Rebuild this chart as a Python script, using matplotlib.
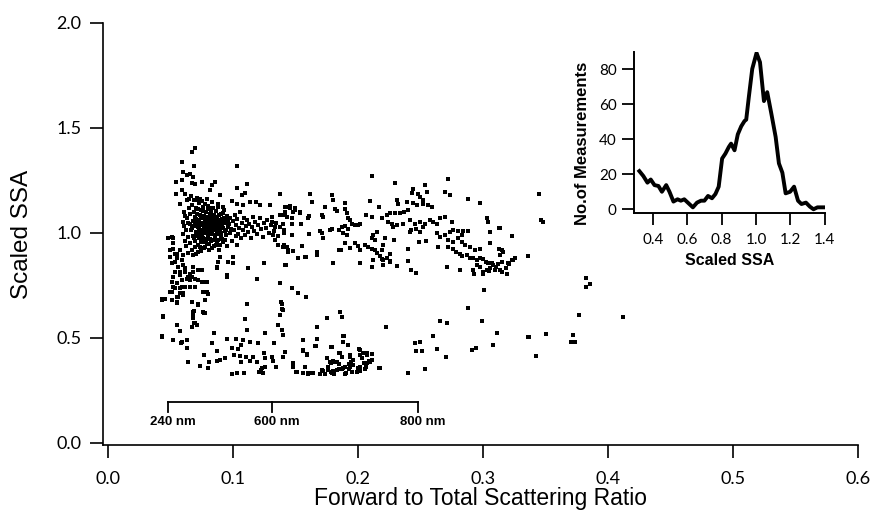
import matplotlib.pyplot as plt
import numpy as np

# scatter points (forward/total scattering ratio, scaled SSA)
cluster_pts = [
    (0.0612, 1.102), (0.0634, 1.071), (0.0648, 1.118), (0.0655, 1.043), (0.0661, 1.089), (0.0667, 1.012),
    (0.0673, 1.132), (0.0679, 1.058), (0.0684, 0.987), (0.0688, 1.101), (0.0693, 1.034), (0.0697, 1.076),
    (0.0701, 0.962), (0.0705, 1.119), (0.0709, 1.005), (0.0712, 1.048), (0.0716, 1.091), (0.0719, 0.941),
    (0.0722, 1.063), (0.0726, 1.021), (0.0729, 1.142), (0.0733, 0.978), (0.0736, 1.087), (0.0739, 1.039),
    (0.0742, 1.108), (0.0746, 0.955), (0.0749, 1.011), (0.0752, 1.069), (0.0756, 0.993), (0.0759, 1.125),
    (0.0763, 1.047), (0.0766, 0.928), (0.0769, 1.083), (0.0772, 1.018), (0.0776, 0.969), (0.0779, 1.061),
    (0.0782, 1.098), (0.0786, 1.002), (0.0789, 1.036), (0.0792, 0.947), (0.0796, 1.075), (0.0799, 1.114),
    (0.0803, 0.984), (0.0806, 1.029), (0.0809, 1.056), (0.0813, 0.917), (0.0816, 1.092), (0.0819, 1.007),
    (0.0823, 1.043), (0.0826, 0.962), (0.0829, 1.071), (0.0833, 1.121), (0.0836, 0.996), (0.0839, 1.034),
    (0.0843, 1.063), (0.0846, 0.939), (0.0849, 1.088), (0.0853, 1.014), (0.0857, 0.975), (0.0861, 1.052),
    (0.0865, 1.103), (0.0869, 1.026), (0.0873, 0.953), (0.0877, 1.067), (0.0881, 0.994), (0.0885, 1.041),
    (0.0889, 1.084), (0.0893, 0.921), (0.0898, 1.017), (0.0903, 1.058), (0.0908, 0.981), (0.0913, 1.036),
    (0.0918, 1.095), (0.0924, 0.958), (0.0930, 1.072), (0.0936, 1.009), (0.0942, 1.046), (0.0948, 0.992),
    (0.0955, 1.081), (0.0962, 1.027),
    (0.0598, 1.054), (0.0603, 0.997), (0.0607, 1.031), (0.0617, 0.963), (0.0621, 1.079), (0.0626, 0.938),
    (0.0629, 1.015), (0.0638, 0.981), (0.0642, 1.047), (0.0645, 0.906), (0.0651, 1.161), (0.0658, 0.952),
    (0.0664, 1.174), (0.0671, 0.918), (0.0676, 1.023), (0.0681, 0.894), (0.0686, 1.155), (0.0691, 0.975),
    (0.0695, 0.931), (0.0699, 1.047), (0.0703, 0.899), (0.0707, 1.066), (0.0711, 0.984), (0.0714, 1.168),
    (0.0718, 1.029), (0.0721, 0.908), (0.0724, 1.112), (0.0728, 0.997), (0.0731, 1.052), (0.0734, 0.934),
    (0.0738, 1.163), (0.0741, 1.004), (0.0744, 1.072), (0.0748, 0.912), (0.0751, 1.037), (0.0755, 1.151),
    (0.0758, 0.976), (0.0761, 1.016), (0.0765, 1.104), (0.0768, 0.958), (0.0771, 1.049), (0.0775, 1.137),
    (0.0778, 0.934), (0.0781, 1.024), (0.0785, 1.078), (0.0788, 0.968), (0.0791, 1.161), (0.0795, 1.009),
    (0.0798, 0.987), (0.0801, 1.045), (0.0805, 1.129), (0.0808, 0.949), (0.0812, 1.016), (0.0815, 1.064),
    (0.0818, 0.972), (0.0822, 1.106), (0.0825, 1.031), (0.0828, 0.995), (0.0832, 1.082), (0.0835, 0.928),
    (0.0838, 1.049), (0.0842, 1.013), (0.0845, 1.117), (0.0848, 0.968), (0.0852, 1.058), (0.0856, 1.034),
    (0.0860, 0.989), (0.0864, 1.076), (0.0868, 0.943), (0.0872, 1.041), (0.0876, 1.008), (0.0880, 1.123),
    (0.0884, 0.967), (0.0888, 1.061), (0.0892, 1.029), (0.0897, 0.944), (0.0902, 1.089), (0.0907, 1.002),
    (0.0912, 1.067), (0.0917, 0.973), (0.0923, 1.024), (0.0929, 1.108), (0.0935, 0.966), (0.0941, 1.057),
    (0.0947, 1.015), (0.0953, 0.938), (0.0959, 1.064),
]

cluster_top = [
    (0.0698, 1.407), (0.0676, 1.386), (0.0596, 1.338), (0.0692, 1.318), (0.1030, 1.319), (0.0604, 1.291),
    (0.0631, 1.275), (0.0658, 1.283), (0.0543, 1.243), (0.0591, 1.251), (0.0671, 1.239), (0.0698, 1.235),
    (0.0751, 1.243), (0.0684, 1.267), (0.0857, 1.243), (0.0831, 1.227), (0.0818, 1.207), (0.1116, 1.235),
    (0.0546, 1.188), (0.0618, 1.188), (0.0591, 1.207), (0.1030, 1.215), (0.0897, 1.183), (0.1070, 1.180),
    (0.1097, 1.191), (0.1377, 1.185), (0.0578, 1.140), (0.0631, 1.156), (0.0724, 1.159), (0.0791, 1.164),
    (0.0831, 1.148), (0.0884, 1.140), (0.0924, 1.124), (0.0991, 1.153), (0.1031, 1.140), (0.1084, 1.132),
    (0.1137, 1.148), (0.1185, 1.148), (0.1217, 1.132), (0.1297, 1.132), (0.1430, 1.124), (0.1417, 1.101),
    (0.1377, 1.085),
]

arm_pts = [
    (0.0968, 1.042), (0.0975, 0.998), (0.0981, 1.073), (0.0987, 1.021), (0.0994, 0.962), (0.1001, 1.055),
    (0.1008, 1.012), (0.1015, 1.086), (0.1022, 0.985), (0.1029, 1.038), (0.1036, 1.067), (0.1043, 0.997),
    (0.1051, 1.024), (0.1058, 1.098), (0.1066, 0.974), (0.1074, 1.046), (0.1082, 1.013), (0.1090, 1.071),
    (0.1098, 0.991), (0.1106, 1.035), (0.1115, 1.062), (0.1124, 1.003), (0.1133, 1.044), (0.1142, 0.978),
    (0.1151, 1.029), (0.1161, 1.077), (0.1171, 1.011), (0.1181, 1.052), (0.1192, 0.996), (0.1203, 1.038),
    (0.1214, 1.069), (0.1226, 1.017), (0.1238, 0.983), (0.1250, 1.046), (0.1263, 1.025), (0.1276, 1.061),
    (0.1289, 0.998), (0.1302, 1.037), (0.1316, 1.074), (0.1330, 1.008), (0.1345, 1.049), (0.1360, 0.987),
    (0.1375, 1.028),
]

tail_pts = [
    (0.0511, 0.982), (0.0484, 0.974), (0.0524, 0.926), (0.0551, 0.902), (0.0498, 0.886), (0.0538, 0.863),
    (0.0564, 0.839), (0.0591, 0.871), (0.0604, 0.894), (0.0618, 0.831), (0.0578, 0.815), (0.0524, 0.791),
    (0.0511, 0.768), (0.0556, 0.760), (0.0538, 0.736), (0.0511, 0.720), (0.0591, 0.744), (0.0578, 0.712),
    (0.0631, 0.783), (0.0671, 0.791), (0.0698, 0.744), (0.0724, 0.775), (0.0764, 0.768), (0.0791, 0.720),
    (0.0804, 0.709), (0.0751, 0.823), (0.0684, 0.839), (0.0658, 0.807), (0.0871, 0.839), (0.0897, 0.886),
    (0.0951, 0.799), (0.0964, 0.863), (0.1004, 0.886), (0.1124, 0.831), (0.1191, 0.783), (0.1249, 0.855),
    (0.1377, 0.760), (0.1422, 0.847), (0.1409, 0.942), (0.1031, 0.942), (0.1004, 0.855), (0.0431, 0.688),
    (0.0551, 0.696), (0.0599, 0.704), (0.0724, 0.656), (0.0684, 0.625), (0.0679, 0.601), (0.0698, 0.569),
    (0.0671, 0.554), (0.0445, 0.604), (0.0551, 0.561), (0.0578, 0.534), (0.0431, 0.506), (0.0524, 0.490),
    (0.0591, 0.482), (0.0631, 0.490), (0.0631, 0.450), (0.0764, 0.625), (0.0850, 0.525), (0.1116, 0.664),
    (0.1097, 0.590), (0.1382, 0.669), (0.1396, 0.636), (0.1377, 0.609),
    (0.0485, 0.978), (0.0520, 0.978), (0.0524, 0.950), (0.0498, 0.918), (0.0538, 0.902), (0.0578, 0.918),
    (0.0551, 0.879), (0.0591, 0.871), (0.0511, 0.855), (0.0604, 0.847), (0.0564, 0.839), (0.0538, 0.815),
    (0.0578, 0.799), (0.0618, 0.815), (0.0644, 0.791), (0.0684, 0.815), (0.0724, 0.823), (0.0698, 0.783),
    (0.0658, 0.775), (0.0591, 0.775), (0.0511, 0.768), (0.0524, 0.744), (0.0578, 0.736), (0.0618, 0.744),
    (0.0658, 0.741), (0.0604, 0.712), (0.0498, 0.720), (0.0458, 0.688), (0.0431, 0.680), (0.0564, 0.696),
    (0.0511, 0.680), (0.0551, 0.672), (0.0671, 0.672), (0.0778, 0.680), (0.0764, 0.720), (0.0724, 0.775),
    (0.0751, 0.768), (0.0791, 0.768), (0.0871, 0.831), (0.0884, 0.863), (0.0951, 0.791), (0.0724, 0.656),
    (0.0684, 0.617), (0.0778, 0.617), (0.0444, 0.601), (0.0679, 0.593),
]

upper_band = [
    (0.211, 1.270), (0.272, 1.256), (0.230, 1.240), (0.254, 1.227), (0.244, 1.208), (0.243, 1.191),
    (0.248, 1.185), (0.250, 1.172), (0.252, 1.159), (0.255, 1.193), (0.270, 1.196), (0.274, 1.183),
    (0.162, 1.185), (0.179, 1.180), (0.180, 1.159), (0.163, 1.148), (0.190, 1.145), (0.210, 1.151),
    (0.231, 1.156), (0.232, 1.140), (0.239, 1.148), (0.244, 1.144), (0.247, 1.132), (0.288, 1.161),
    (0.298, 1.143), (0.252, 1.140), (0.256, 1.132), (0.259, 1.124),
    (0.1417, 1.124), (0.1457, 1.128), (0.1497, 1.120), (0.1417, 1.101), (0.1484, 1.101), (0.1537, 1.096),
    (0.1737, 1.124), (0.1817, 1.112), (0.1830, 1.105), (0.1897, 1.116), (0.1910, 1.096), (0.1923, 1.069),
    (0.1937, 1.061), (0.1710, 1.085), (0.1720, 1.077), (0.1610, 1.080), (0.1600, 1.069), (0.1398, 1.085),
    (0.1404, 1.045), (0.1470, 1.072), (0.1476, 1.042), (0.1542, 1.045), (0.2064, 1.088), (0.2110, 1.077),
    (0.2170, 1.124), (0.2190, 1.069), (0.2230, 1.085), (0.2256, 1.093), (0.2296, 1.096), (0.2336, 1.093),
    (0.2368, 1.101), (0.2403, 1.109), (0.2243, 1.053), (0.2270, 1.045), (0.2310, 1.037), (0.2280, 1.029),
    (0.2358, 1.042), (0.2416, 1.061), (0.2456, 1.045), (0.2496, 1.053), (0.2536, 1.045), (0.2576, 1.061),
    (0.2603, 1.053), (0.2630, 1.045), (0.2656, 1.069), (0.2696, 1.074), (0.2757, 1.053), (0.2842, 1.009),
    (0.2882, 1.010), (0.3034, 1.069), (0.3042, 1.053), (0.3060, 1.005), (0.3130, 1.026), (0.3230, 0.985),
    (0.3360, 0.890),
    (0.1777, 1.013), (0.1790, 1.021), (0.1851, 1.016), (0.1870, 1.029), (0.1897, 1.032), (0.1923, 1.021),
    (0.1950, 1.045), (0.1977, 1.037), (0.2016, 1.045), (0.2003, 1.037), (0.1697, 1.009), (0.1710, 0.998),
    (0.1409, 1.013), (0.1409, 0.998), (0.1470, 0.990), (0.1610, 0.993), (0.1720, 0.974), (0.1880, 0.998),
    (0.1910, 0.990), (0.1897, 0.953), (0.1850, 0.921), (0.1977, 0.950), (0.2003, 0.937), (0.2016, 0.921),
    (0.1937, 0.929), (0.2056, 0.942), (0.2083, 0.934), (0.2110, 0.926), (0.2136, 0.918), (0.2150, 0.905),
    (0.2176, 0.890), (0.2190, 0.878), (0.2203, 0.871), (0.2230, 0.883), (0.2256, 0.867), (0.2123, 0.990),
    (0.2150, 1.005), (0.2117, 0.974), (0.2136, 0.966), (0.2216, 0.978), (0.2288, 0.966), (0.2190, 0.921),
    (0.2203, 0.942), (0.2256, 0.899), (0.2416, 1.005), (0.2429, 1.016), (0.2469, 1.021), (0.2523, 1.029),
    (0.2496, 1.005), (0.2630, 0.998), (0.2656, 0.982), (0.2696, 0.990), (0.2736, 1.005), (0.2763, 1.013),
    (0.2803, 1.010), (0.2722, 0.966), (0.2763, 0.958), (0.2803, 0.974), (0.2830, 0.990), (0.2491, 0.958),
    (0.2544, 0.963), (0.2403, 0.926), (0.2643, 0.934),
    (0.2723, 0.934), (0.2763, 0.926), (0.2789, 0.910), (0.2816, 0.902), (0.2837, 0.890), (0.2869, 0.894),
    (0.2896, 0.883), (0.2922, 0.879), (0.2949, 0.871), (0.2976, 0.883), (0.3002, 0.874), (0.3024, 0.863),
    (0.3042, 0.855), (0.3069, 0.858), (0.3082, 0.847), (0.3104, 0.839), (0.3056, 0.831), (0.3029, 0.823),
    (0.3002, 0.815), (0.2976, 0.839), (0.2949, 0.847), (0.2922, 0.823), (0.2928, 0.804), (0.2997, 0.807),
    (0.3050, 0.820), (0.3096, 0.826), (0.3122, 0.852), (0.3149, 0.863), (0.3136, 0.823), (0.3184, 0.831),
    (0.3202, 0.855), (0.3229, 0.871), (0.3255, 0.879), (0.3194, 0.807), (0.3136, 0.894), (0.2976, 0.926),
    (0.2936, 0.918), (0.2896, 0.934), (0.2856, 0.942), (0.2837, 0.958), (0.3130, 0.926), (0.3060, 0.953),
    (0.2123, 0.871), (0.2110, 0.839), (0.2203, 0.847), (0.2256, 0.863), (0.2310, 0.842), (0.2403, 0.868),
    (0.2429, 0.823), (0.2469, 0.810), (0.1803, 0.855), (0.2016, 0.858), (0.1417, 0.847), (0.1524, 0.883),
    (0.1585, 0.886), (0.1444, 0.918), (0.1484, 0.914), (0.1430, 0.934), (0.1404, 0.934), (0.1675, 0.910),
    (0.1670, 0.894), (0.1862, 0.921), (0.2710, 0.839), (0.2816, 0.823),
    (0.1617, 1.185), (0.1630, 1.148), (0.1297, 1.132), (0.1457, 1.121), (0.1497, 1.108), (0.1537, 1.100),
    (0.1417, 1.093), (0.1430, 1.077), (0.1310, 1.053), (0.1337, 1.029), (0.1324, 0.990), (0.1337, 0.966),
    (0.1364, 0.942), (0.1404, 0.934), (0.1444, 0.910), (0.1523, 0.882), (0.1577, 0.886), (0.1550, 0.937),
]

lower_band = [
    (0.1377, 0.763), (0.1470, 0.736), (0.1524, 0.715), (0.1585, 0.693), (0.1390, 0.664), (0.1404, 0.633),
    (0.1857, 0.625), (0.1870, 0.598), (0.1750, 0.593), (0.1670, 0.554), (0.2224, 0.554), (0.2877, 0.645),
    (0.3010, 0.728), (0.2994, 0.581), (0.2656, 0.582), (0.2710, 0.573), (0.3109, 0.522), (0.3362, 0.506),
    (0.1390, 0.538), (0.1404, 0.514), (0.1558, 0.490), (0.1670, 0.495), (0.1883, 0.509), (0.1883, 0.482),
    (0.1923, 0.466), (0.2603, 0.511), (0.2456, 0.477), (0.2496, 0.482), (0.3082, 0.466), (0.2909, 0.442),
    (0.2944, 0.454), (0.2630, 0.446), (0.2469, 0.439), (0.2517, 0.438), (0.2704, 0.411), (0.1417, 0.434),
    (0.1398, 0.411), (0.1564, 0.442), (0.1596, 0.419), (0.1657, 0.462), (0.1785, 0.455),
    (0.1857, 0.430), (0.1937, 0.419), (0.2016, 0.443), (0.2043, 0.430), (0.2075, 0.419), (0.2110, 0.424),
    (0.2030, 0.403), (0.2091, 0.392), (0.2064, 0.379), (0.2016, 0.363), (0.2056, 0.351), (0.1995, 0.339),
    (0.1937, 0.363), (0.1942, 0.387), (0.1897, 0.363), (0.1851, 0.376), (0.1817, 0.387), (0.1777, 0.387),
    (0.1763, 0.363), (0.1803, 0.339), (0.1830, 0.347), (0.1870, 0.351), (0.1897, 0.328), (0.1720, 0.344),
    (0.1697, 0.328), (0.1638, 0.332), (0.1603, 0.328), (0.1564, 0.335), (0.1510, 0.339), (0.1484, 0.371),
    (0.1577, 0.363), (0.1790, 0.332), (0.2176, 0.355), (0.2398, 0.335), (0.2536, 0.351),
    (0.0551, 0.668), (0.0724, 0.661), (0.1116, 0.661), (0.0692, 0.630), (0.0772, 0.620), (0.0679, 0.593),
    (0.0690, 0.573), (0.0671, 0.553), (0.0711, 0.561), (0.0556, 0.561), (0.1097, 0.590), (0.1116, 0.538),
    (0.1358, 0.561), (0.1390, 0.538), (0.1398, 0.514), (0.0431, 0.509), (0.0850, 0.525), (0.1257, 0.525),
    (0.0583, 0.477), (0.0831, 0.477), (0.0956, 0.495), (0.1025, 0.495), (0.1084, 0.490), (0.1137, 0.482),
    (0.1204, 0.474), (0.0990, 0.454), (0.1044, 0.446), (0.1063, 0.466), (0.0876, 0.439), (0.1332, 0.474),
    (0.1662, 0.463), (0.1889, 0.509), (0.1558, 0.439), (0.1590, 0.423), (0.1790, 0.455), (0.2011, 0.446),
    (0.1851, 0.430), (0.1870, 0.411), (0.0770, 0.419), (0.0644, 0.387), (0.0738, 0.368), (0.0812, 0.387),
    (0.0804, 0.358), (0.0871, 0.392), (0.0897, 0.395), (0.0937, 0.403), (0.1009, 0.419), (0.1057, 0.414),
    (0.1105, 0.408), (0.1164, 0.411), (0.1065, 0.387), (0.1137, 0.392), (0.1191, 0.387), (0.1249, 0.430),
    (0.1257, 0.403), (0.1311, 0.408), (0.1318, 0.392), (0.1345, 0.363), (0.1417, 0.434), (0.1398, 0.409),
    (0.1230, 0.355), (0.1212, 0.339), (0.1244, 0.335), (0.1257, 0.363), (0.1222, 0.347), (0.0990, 0.328),
    (0.1036, 0.335), (0.1089, 0.332), (0.1484, 0.382), (0.1478, 0.363), (0.1505, 0.339), (0.1564, 0.335),
    (0.1604, 0.332), (0.1630, 0.335), (0.1710, 0.347), (0.1697, 0.328), (0.1737, 0.328), (0.1763, 0.347),
    (0.1782, 0.339), (0.1803, 0.344), (0.1811, 0.328), (0.1851, 0.350), (0.1878, 0.355), (0.1905, 0.335),
    (0.1931, 0.350), (0.1950, 0.339), (0.1750, 0.403), (0.1782, 0.382), (0.1798, 0.392), (0.1835, 0.387),
    (0.1937, 0.411), (0.1958, 0.395), (0.1931, 0.376), (0.1963, 0.371), (0.2017, 0.419), (0.2038, 0.427),
    (0.2070, 0.430), (0.2096, 0.387), (0.2070, 0.379), (0.2049, 0.382), (0.2110, 0.395), (0.2003, 0.355),
    (0.2017, 0.344), (0.2064, 0.363), (0.2170, 0.355),
]

outlier_pts = [
    (0.3450, 1.188), (0.3461, 1.061), (0.3477, 1.053), (0.3136, 1.026), (0.3235, 0.985), (0.3150, 0.921),
    (0.3163, 0.910), (0.3256, 0.879), (0.3237, 0.871), (0.3211, 0.852), (0.3184, 0.831), (0.3195, 0.807),
    (0.3149, 0.815), (0.3362, 0.890), (0.3823, 0.788), (0.3860, 0.756), (0.3823, 0.744), (0.3770, 0.609),
    (0.4122, 0.601), (0.3370, 0.506), (0.3501, 0.519), (0.3717, 0.515), (0.3701, 0.482), (0.3736, 0.479),
    (0.3424, 0.414),
]

# inset histogram trace
hist_ssa = [0.322, 0.345, 0.369, 0.388, 0.410, 0.433, 0.453, 0.478, 0.497, 0.520, 0.544, 0.563,
            0.583, 0.608, 0.633, 0.657, 0.680, 0.700, 0.721, 0.744, 0.764, 0.783, 0.803, 0.822,
            0.842, 0.855, 0.875, 0.894, 0.914, 0.933, 0.943, 0.958, 0.978, 1.003, 1.023, 1.046,
            1.065, 1.089, 1.114, 1.133, 1.153, 1.172, 1.198, 1.221, 1.244, 1.264, 1.290, 1.313,
            1.334, 1.357, 1.400]
hist_count = [21.8, 19.0, 15.2, 17.0, 13.8, 13.3, 10.0, 13.8, 10.0, 4.4, 5.7, 4.9,
              5.7, 3.4, 1.1, 3.8, 4.9, 4.9, 7.6, 6.3, 8.7, 12.9, 29.0, 31.8,
              35.6, 37.5, 33.7, 42.8, 47.4, 50.4, 51.2, 64.0, 80.2, 89.3, 84.0, 61.8,
              66.9, 54.6, 41.3, 26.2, 20.9, 9.1, 10.0, 12.9, 4.9, 3.0, 3.8, 1.5,
              0.0, 1.1, 1.1]

bracket_ticks = [0.0482, 0.1313, 0.2481]
bracket_labels = ["240 nm", "600 nm", "800 nm"]

pts = np.array(cluster_pts + cluster_top + arm_pts + tail_pts + upper_band + lower_band + outlier_pts)

fig = plt.figure(figsize=(8.75, 5.12), dpi=100)
ax = fig.add_axes([0.1177, 0.1309, 0.8629, 0.8242])
ax.plot(pts[:, 0], pts[:, 1], ls="none", marker="s", ms=2.7, mew=0, color="black")

ax.set_xlim(-0.0038, 0.6)
ax.set_ylim(-0.0095, 2.0)
ax.set_xticks([0.0, 0.1, 0.2, 0.3, 0.4, 0.5, 0.6])
ax.set_yticks([0.0, 0.5, 1.0, 1.5, 2.0])
ax.xaxis.set_major_formatter(plt.FormatStrFormatter("%.1f"))
ax.yaxis.set_major_formatter(plt.FormatStrFormatter("%.1f"))
for s in ["top", "right"]:
    ax.spines[s].set_visible(False)
for s in ["left", "bottom"]:
    ax.spines[s].set_linewidth(1.2)
ax.tick_params(axis="both", direction="out", length=9.5, width=1.2, labelsize=13)
ax.tick_params(axis="x", pad=9)
ax.tick_params(axis="y", pad=6)
for lab in ax.get_xticklabels() + ax.get_yticklabels():
    lab.set_family("Lato")
ax.set_xlabel("Forward to Total Scattering Ratio", fontsize=16.5, family="Liberation Sans")
ax.set_ylabel("Scaled SSA", fontsize=17.5, family="Liberation Sans")
ax.xaxis.set_label_coords(0.5, -0.099)
ax.yaxis.set_label_coords(-0.093, 0.5)

# size bracket below the data
ax.plot([bracket_ticks[0], bracket_ticks[-1]], [0.194, 0.194], color="black", lw=1.3)
for bx, bl in zip(bracket_ticks, bracket_labels):
    ax.plot([bx, bx], [0.194, 0.149], color="black", lw=1.3)
    ax.text(bx + 0.004, 0.101, bl, ha="center", va="center", fontsize=9.5,
            fontweight="bold", family="Liberation Sans")

# inset
ins = fig.add_axes([0.7246, 0.5834, 0.2183, 0.3156])
ins.plot(hist_ssa, hist_count, color="black", lw=2.8, solid_joinstyle="round")
ins.set_xlim(0.291, 1.401)
ins.set_ylim(-2.3, 90)
ins.set_xticks([0.4, 0.6, 0.8, 1.0, 1.2, 1.4])
ins.set_yticks([0, 20, 40, 60, 80])
ins.xaxis.set_major_formatter(plt.FormatStrFormatter("%.1f"))
for s in ["top", "right"]:
    ins.spines[s].set_visible(False)
for s in ["left", "bottom"]:
    ins.spines[s].set_linewidth(1.4)
ins.tick_params(axis="both", direction="out", length=8.5, width=1.3, labelsize=11)
ins.tick_params(axis="x", pad=6)
ins.tick_params(axis="y", pad=4)
for lab in ins.get_xticklabels() + ins.get_yticklabels():
    lab.set_family("Lato")
ins.set_xlabel("Scaled SSA", fontsize=11.5, fontweight="bold", family="Liberation Sans")
ins.set_ylabel("No.of Measurements", fontsize=12, fontweight="bold", family="Liberation Sans")
ins.yaxis.set_label_coords(-0.23, 0.43)

fig.savefig("out.png", dpi=100)
